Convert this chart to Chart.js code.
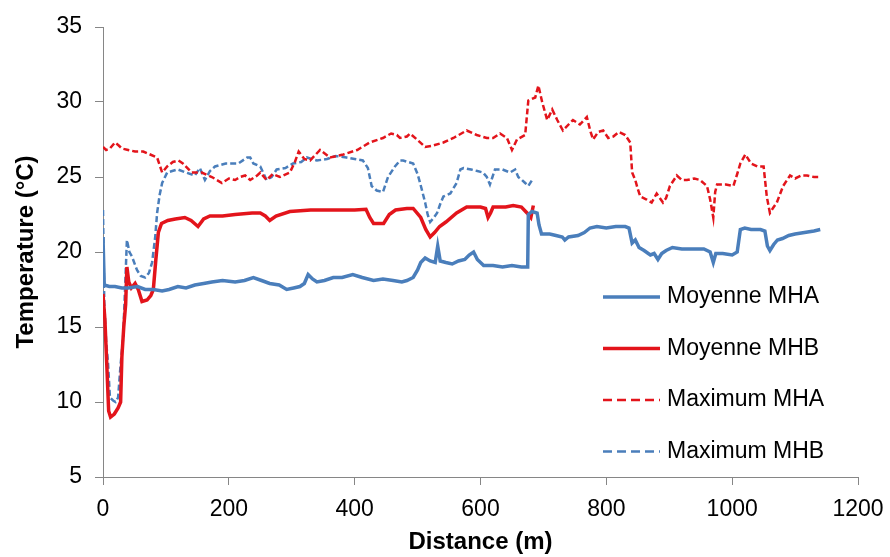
<!DOCTYPE html>
<html><head><meta charset="utf-8">
<script src="https://cdn.jsdelivr.net/npm/chart.js@4"></script>
<style>html,body{margin:0;padding:0;background:#fff}</style>
</head><body>
<canvas id="c" width="890" height="557"></canvas>
<script>
// Moyenne MHA (blue solid)
const moyMhaD = [0,2,10,19,30,40,55,67,80,94,105,119,132,146,160,173,190,210,225,239,252,265,280,292,303,313,320,326,333,340,352,366,380,397,412,430,445,461,475,483,493,500,505,512,520,528,532,536,545,555,565,575,582,589,595,605,620,635,650,665,675,676,682,690,693,697,710,720,730,734,740,755,765,774,785,800,815,830,836,841,846,852,860,870,876,882,888,895,905,920,940,955,965,970,974,985,1000,1008,1013,1020,1030,1045,1052,1056,1060,1066,1072,1080,1090,1100,1115,1130,1140];
const moyMhaT = [21.0,17.8,17.7,17.7,17.6,17.6,17.7,17.5,17.5,17.4,17.5,17.7,17.6,17.8,17.9,18.0,18.1,18.0,18.1,18.3,18.1,17.9,17.8,17.5,17.6,17.7,17.9,18.5,18.2,18.0,18.1,18.3,18.3,18.5,18.3,18.1,18.2,18.1,18.0,18.1,18.3,18.8,19.3,19.6,19.4,19.3,20.4,19.4,19.3,19.2,19.4,19.5,19.8,20.0,19.5,19.1,19.1,19.0,19.1,19.0,19.0,22.5,22.7,22.6,21.8,21.2,21.2,21.1,21.0,20.8,21.0,21.1,21.3,21.6,21.7,21.6,21.7,21.7,21.6,20.6,20.8,20.3,20.1,19.8,19.9,19.5,19.9,20.1,20.3,20.2,20.2,20.2,20.0,19.3,19.9,19.9,19.8,20.0,21.5,21.6,21.5,21.5,21.4,20.4,20.1,20.5,20.8,20.9,21.1,21.2,21.3,21.4,21.5];

// Moyenne MHB (red solid)
const moyMhbD = [0,3,6,9,12,18,24,28,30,33,36,38,41,45,51,56,62,70,76,80,84,88,93,103,115,130,140,151,160,170,190,210,237,250,258,265,275,297,330,370,400,418,424,430,440,446,455,465,483,493,505,513,520,527,535,545,562,578,600,608,612,616,620,640,652,665,674,680,684];
const moyMhbT = [17.2,15.5,12.5,9.4,9.0,9.2,9.6,10.0,13.0,15.0,16.5,19.0,18.0,17.6,17.9,17.5,16.7,16.8,17.1,17.5,19.5,21.3,21.9,22.1,22.2,22.3,22.1,21.7,22.2,22.4,22.4,22.5,22.6,22.6,22.4,22.1,22.4,22.7,22.8,22.8,22.8,22.85,22.3,21.9,21.9,21.9,22.5,22.8,22.9,22.9,22.3,21.5,21.0,21.3,21.7,22.0,22.6,23.0,23.0,22.9,22.3,22.6,23.0,23.0,23.1,23.0,22.6,22.3,23.1];

// Maximum MHA (red dashed)
const maxMhaD = [0,5,11,19,25,30,40,51,64,75,86,90,94,102,111,120,127,141,157,173,189,200,210,218,226,234,245,250,260,270,281,297,305,311,320,329,345,361,382,404,424,445,458,467,472,483,488,499,512,525,541,557,578,594,610,620,631,642,650,658,671,676,687,692,698,706,714,722,731,740,747,758,769,775,779,787,795,803,811,820,830,838,841,846,850,854,864,872,880,890,895,901,912,920,928,940,949,960,965,970,973,976,990,1002,1008,1013,1021,1030,1040,1050,1055,1060,1066,1071,1081,1092,1100,1110,1119,1130,1140];
const maxMhaT = [27.0,26.8,26.9,27.3,27.1,26.9,26.8,26.7,26.7,26.5,26.3,25.8,25.3,25.7,26.0,26.1,25.9,25.3,25.3,25.0,24.6,24.9,24.8,25.0,25.1,24.8,25.1,25.3,24.8,25.2,25.0,25.3,26.0,26.7,26.2,26.1,26.8,26.3,26.5,26.8,27.3,27.6,27.9,27.8,27.6,27.7,27.9,27.5,27.0,27.1,27.3,27.6,28.1,27.8,27.6,27.6,27.9,27.6,26.8,27.5,27.8,30.1,30.3,31.1,30.0,28.8,29.5,28.8,28.1,28.5,28.8,28.5,29.0,28.0,27.5,28.0,28.1,27.6,27.7,28.0,27.8,27.3,25.3,24.8,24.2,23.7,23.5,23.3,23.9,23.3,23.6,24.4,25.1,24.8,24.8,24.9,24.8,24.4,23.5,22.3,24.0,24.5,24.5,24.4,25.2,25.9,26.5,25.9,25.7,25.7,23.7,22.6,23.0,23.3,24.4,25.1,24.9,25.1,25.1,25.0,25.0];

// Maximum MHB (blue dashed)
const maxMhbD = [0,2,5,8,11,16,20,24,28,32,35,38,42,46,54,60,67,73,78,83,86,90,94,102,110,119,132,146,154,162,170,178,195,207,215,229,234,239,250,260,268,276,290,302,315,324,340,356,370,387,400,413,421,427,435,445,453,464,472,477,485,493,500,504,512,516,520,526,531,536,541,552,562,568,573,585,595,604,610,615,619,623,635,647,655,660,666,671,676,682];
const maxMhbT = [22.8,16.6,14.0,12.6,10.3,10.1,10.0,10.3,12.5,14.3,17.5,20.8,20.0,19.7,18.8,18.4,18.3,18.6,19.3,21.0,22.6,23.8,24.6,25.3,25.4,25.5,25.3,25.1,25.6,24.8,25.4,25.7,25.9,25.9,25.9,26.3,26.3,25.9,25.7,24.8,25.0,25.5,25.6,25.9,26.0,26.3,26.1,26.2,26.4,26.3,26.2,26.1,25.6,24.4,24.1,24.0,25.0,25.7,26.1,26.1,26.0,25.9,25.2,24.6,23.3,22.5,22.0,22.3,22.6,23.2,23.7,23.9,24.6,25.5,25.6,25.5,25.4,25.3,25.0,24.5,25.0,25.5,25.5,25.3,25.5,25.0,24.8,24.6,24.4,24.8];

const seriesLabels = ['Moyenne MHA','Moyenne MHB','Maximum MHA','Maximum MHB'];
const xTicks = [0,200,400,600,800,1000,1200];
const yTicks = [5,10,15,20,25,30,35];

const BLUE = '#4A7EBB', RED = '#E3141B';
const FONT = '"Liberation Sans", Arial, sans-serif';
const pts = (d, t) => d.map((x, i) => ({x, y: t[i]}));

const legendPlugin = {
  id: 'customLegend',
  afterDraw(chart) {
    const ctx = chart.ctx;
    const x0 = 603, x1 = 660, tx = 667, y0 = 297, dy = 51.5;
    chart.data.datasets.forEach((ds, i) => {
      const y = y0 + i * dy;
      ctx.save();
      ctx.strokeStyle = ds.borderColor;
      ctx.lineWidth = ds.borderWidth;
      ctx.setLineDash(ds.borderDash && ds.borderDash.length ? [9, 5] : []);
      ctx.beginPath(); ctx.moveTo(x0, y); ctx.lineTo(x1, y); ctx.stroke();
      ctx.setLineDash([]);
      ctx.fillStyle = '#000';
      ctx.font = '23px ' + FONT;
      ctx.textBaseline = 'middle';
      ctx.textAlign = 'left';
      ctx.fillText(ds.label, tx, y);
      ctx.restore();
    });
  }
};

new Chart(document.getElementById('c'), {
  type: 'line',
  data: {
    datasets: [
      {label: seriesLabels[0], data: pts(moyMhaD, moyMhaT), borderColor: BLUE, borderWidth: 3.5, pointRadius: 0, tension: 0, fill: false},
      {label: seriesLabels[1], data: pts(moyMhbD, moyMhbT), borderColor: RED, borderWidth: 3.5, pointRadius: 0, tension: 0, fill: false},
      {label: seriesLabels[2], data: pts(maxMhaD, maxMhaT), borderColor: RED, borderWidth: 2.5, borderDash: [6, 3], pointRadius: 0, tension: 0, fill: false},
      {label: seriesLabels[3], data: pts(maxMhbD, maxMhbT), borderColor: BLUE, borderWidth: 2.5, borderDash: [6, 3], pointRadius: 0, tension: 0, fill: false}
    ]
  },
  options: {
    responsive: false,
    animation: false,
    devicePixelRatio: 1,
    layout: {padding: {left: 0, right: 32, top: 27, bottom: 0}},
    plugins: {legend: {display: false}, tooltip: {enabled: false}},
    scales: {
      x: {
        type: 'linear', min: 0, max: 1200,
        afterBuildTicks: s => { s.ticks = xTicks.map(v => ({value: v})); },
        afterFit: s => { s.height = 80; s.paddingRight = 0; s.paddingLeft = 0; },
        grid: {drawOnChartArea: false, drawTicks: true, tickLength: 8, color: '#868686'},
        border: {display: true, color: '#868686', width: 1},
        ticks: {color: '#000', font: {family: FONT, size: 23}, padding: 11, maxRotation: 0, callback: v => String(v)},
        title: {display: true, text: 'Distance (m)', color: '#000', font: {family: FONT, size: 24, weight: 'bold'}, padding: {top: 0, bottom: 0}}
      },
      y: {
        type: 'linear', min: 5, max: 35,
        afterBuildTicks: s => { s.ticks = yTicks.map(v => ({value: v})); },
        afterFit: s => { s.width = 103; },
        grid: {drawOnChartArea: false, drawTicks: true, tickLength: 8, color: '#868686'},
        border: {display: true, color: '#868686', width: 1},
        ticks: {color: '#000', font: {family: FONT, size: 23}, padding: 13, callback: v => String(v)},
        title: {display: true, text: 'Temperature (°C)', color: '#000', font: {family: FONT, size: 24, weight: 'bold'}, padding: {top: 12, bottom: 0}}
      }
    }
  },
  plugins: [legendPlugin]
});
</script>
</body></html>
